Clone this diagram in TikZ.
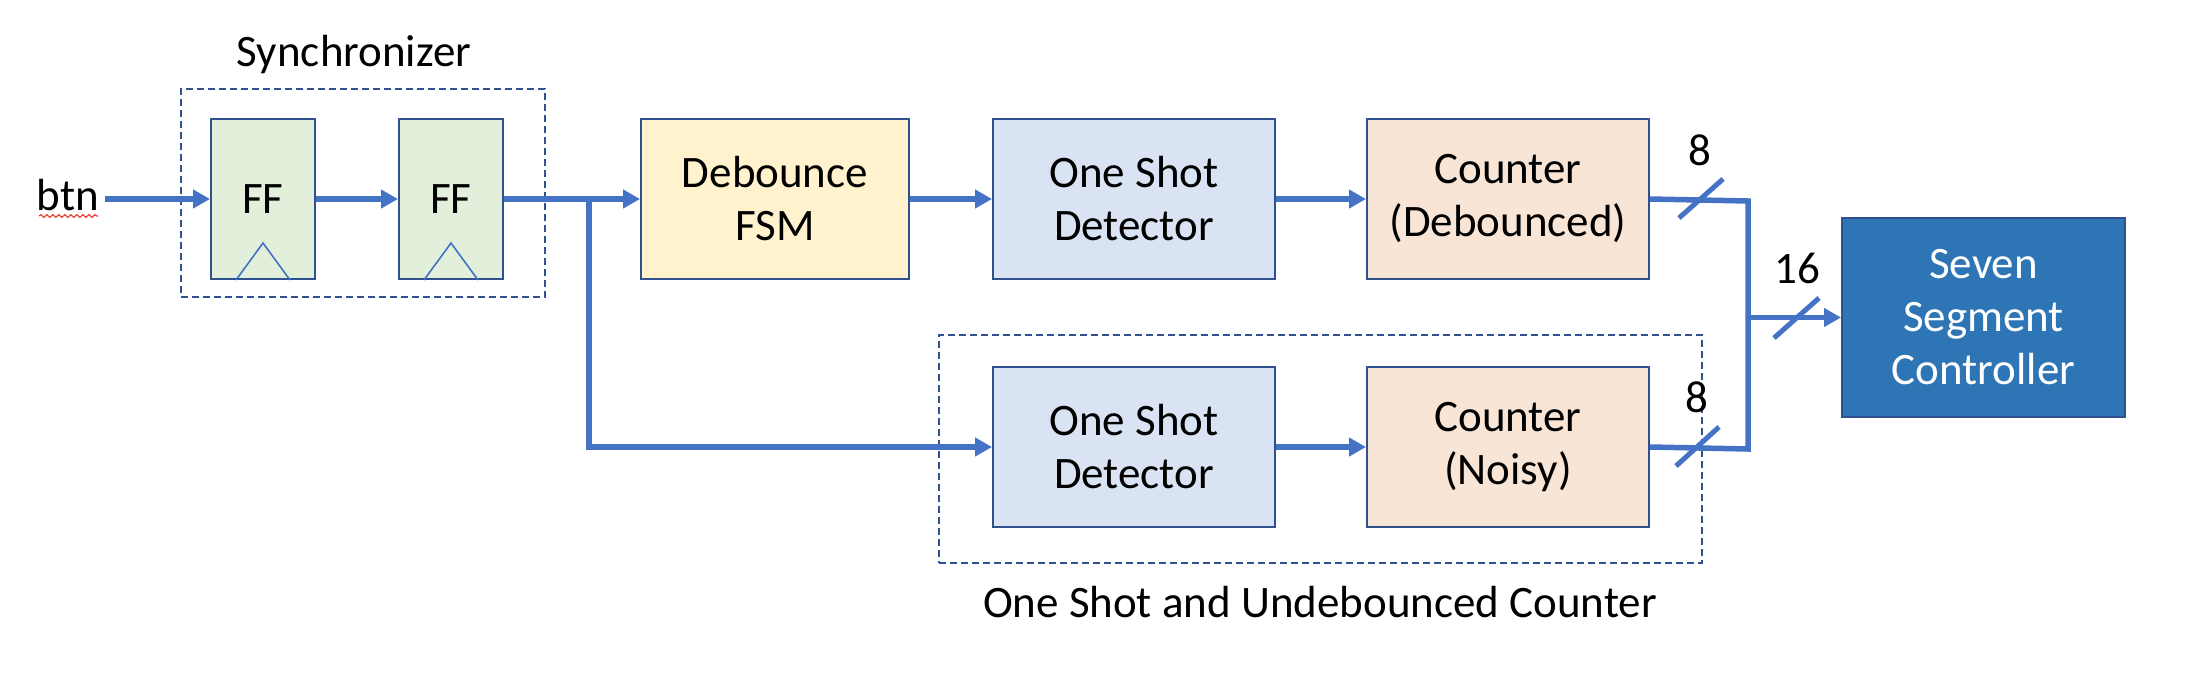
\documentclass[tikz,border=0pt]{standalone}
\usepackage{fontspec}
\setmainfont{Carlito}
\usetikzlibrary{arrows.meta,decorations.pathmorphing}
\definecolor{arrowblue}{HTML}{4472C4}
\definecolor{edgeblue}{HTML}{2F528F}
\definecolor{ffgreen}{HTML}{E2EFDA}
\definecolor{fsmyellow}{HTML}{FFF2CC}
\definecolor{osdblue}{HTML}{DAE3F3}
\definecolor{cntpeach}{HTML}{F8E5D6}
\definecolor{segblue}{HTML}{2E75B6}
\definecolor{spellred}{HTML}{F0402F}
\begin{document}
\begin{tikzpicture}[x=1pt,y=-1pt,
  every node/.style={font=\fontsize{45}{53}\selectfont, inner sep=0pt},
  blockbox/.style={draw=edgeblue, line width=2pt, align=center, minimum height=160pt},
  wire/.style={draw=arrowblue, line width=5.5pt},
  arw/.style={wire, -{Triangle[length=17pt,width=18pt]}},
  grpbox/.style={draw=edgeblue, line width=1.8pt, dash pattern=on 7pt off 4pt},
  busslash/.style={draw=arrowblue, line width=5pt},
  clk/.style={draw=arrowblue, line width=1.6pt}]
\useasboundingbox[fill=white] (0,0) rectangle (2186,694);

% group boxes
\node[grpbox, minimum width=364pt, minimum height=208pt] (sync) at (363,193) {};
\node[grpbox, minimum width=763pt, minimum height=228pt] (osgrp) at (1320.5,449) {};
\node (synclbl) at (354,54) {Synchronizer};
\node (botlbl) at (1320,602) {One Shot and Undebounced Counter};

% blocks
\node[blockbox, fill=ffgreen, minimum width=104pt] (ff1) at (263,199) {FF};
\node[blockbox, fill=ffgreen, minimum width=104pt] (ff2) at (451,199) {FF};
\node[blockbox, fill=fsmyellow, minimum width=268pt] (fsm) at (775,199) {Debounce\\FSM};
\node[blockbox, fill=osdblue, minimum width=282pt] (osd1) at (1134,199) {One Shot\\Detector};
\node[blockbox, fill=cntpeach, minimum width=282pt] (cnt1) at (1508,199) {Counter\\(Debounced)};
\node[blockbox, fill=osdblue, minimum width=282pt] (osd2) at (1134,447) {One Shot\\Detector};
\node[blockbox, fill=cntpeach, minimum width=282pt] (cnt2) at (1508,447) {Counter\\(Noisy)};
\node[blockbox, fill=segblue, text=white, minimum width=283pt, minimum height=199pt] (seg) at (1983.5,317.5) {Seven\\Segment\\Controller};

% clock triangles
\foreach \f in {ff1,ff2}{
  \draw[clk] ([xshift=-27pt]\f.south) -- ([yshift=37pt]\f.south) -- ([xshift=27pt]\f.south);
}

% input
\node[anchor=base] (btn) at (68,210) {btn};
\draw[draw=spellred, line width=1.2pt, decorate, decoration={snake, amplitude=1.4pt, segment length=6pt}] (39,216) -- (98,216);
\coordinate (btnout) at (105,199);
\draw[arw] (btnout) -- (ff1.west);
\draw[arw] (ff1.east) -- (ff2.west);
\draw[arw] (ff2.east) -- (fsm.west);
\coordinate (br) at (589,199);
\draw[arw] (br) -- (br |- osd2.west) -- (osd2.west);
\draw[arw] (fsm.east) -- (osd1.west);
\draw[arw] (osd1.east) -- (cnt1.west);
\draw[arw] (osd2.east) -- (cnt2.west);

% bus join
\coordinate (jt) at (1748,201);
\coordinate (jb) at (1748,449);
\draw[wire, line join=miter] (cnt1.east) -- (jt) -- (jb) -- (cnt2.east);
\draw[arw] (jt |- seg.west) -- (seg.west);

% bus slashes
\draw[busslash] (1679,218) -- (1723,179);
\draw[busslash] (1676,466) -- (1719,427);
\draw[busslash] (1774,338) -- (1819,298);
\node (w8a) at (1700,150) {8};
\node (w16) at (1797,268) {16};
\node (w8b) at (1697,397) {8};
\end{tikzpicture}
\end{document}
